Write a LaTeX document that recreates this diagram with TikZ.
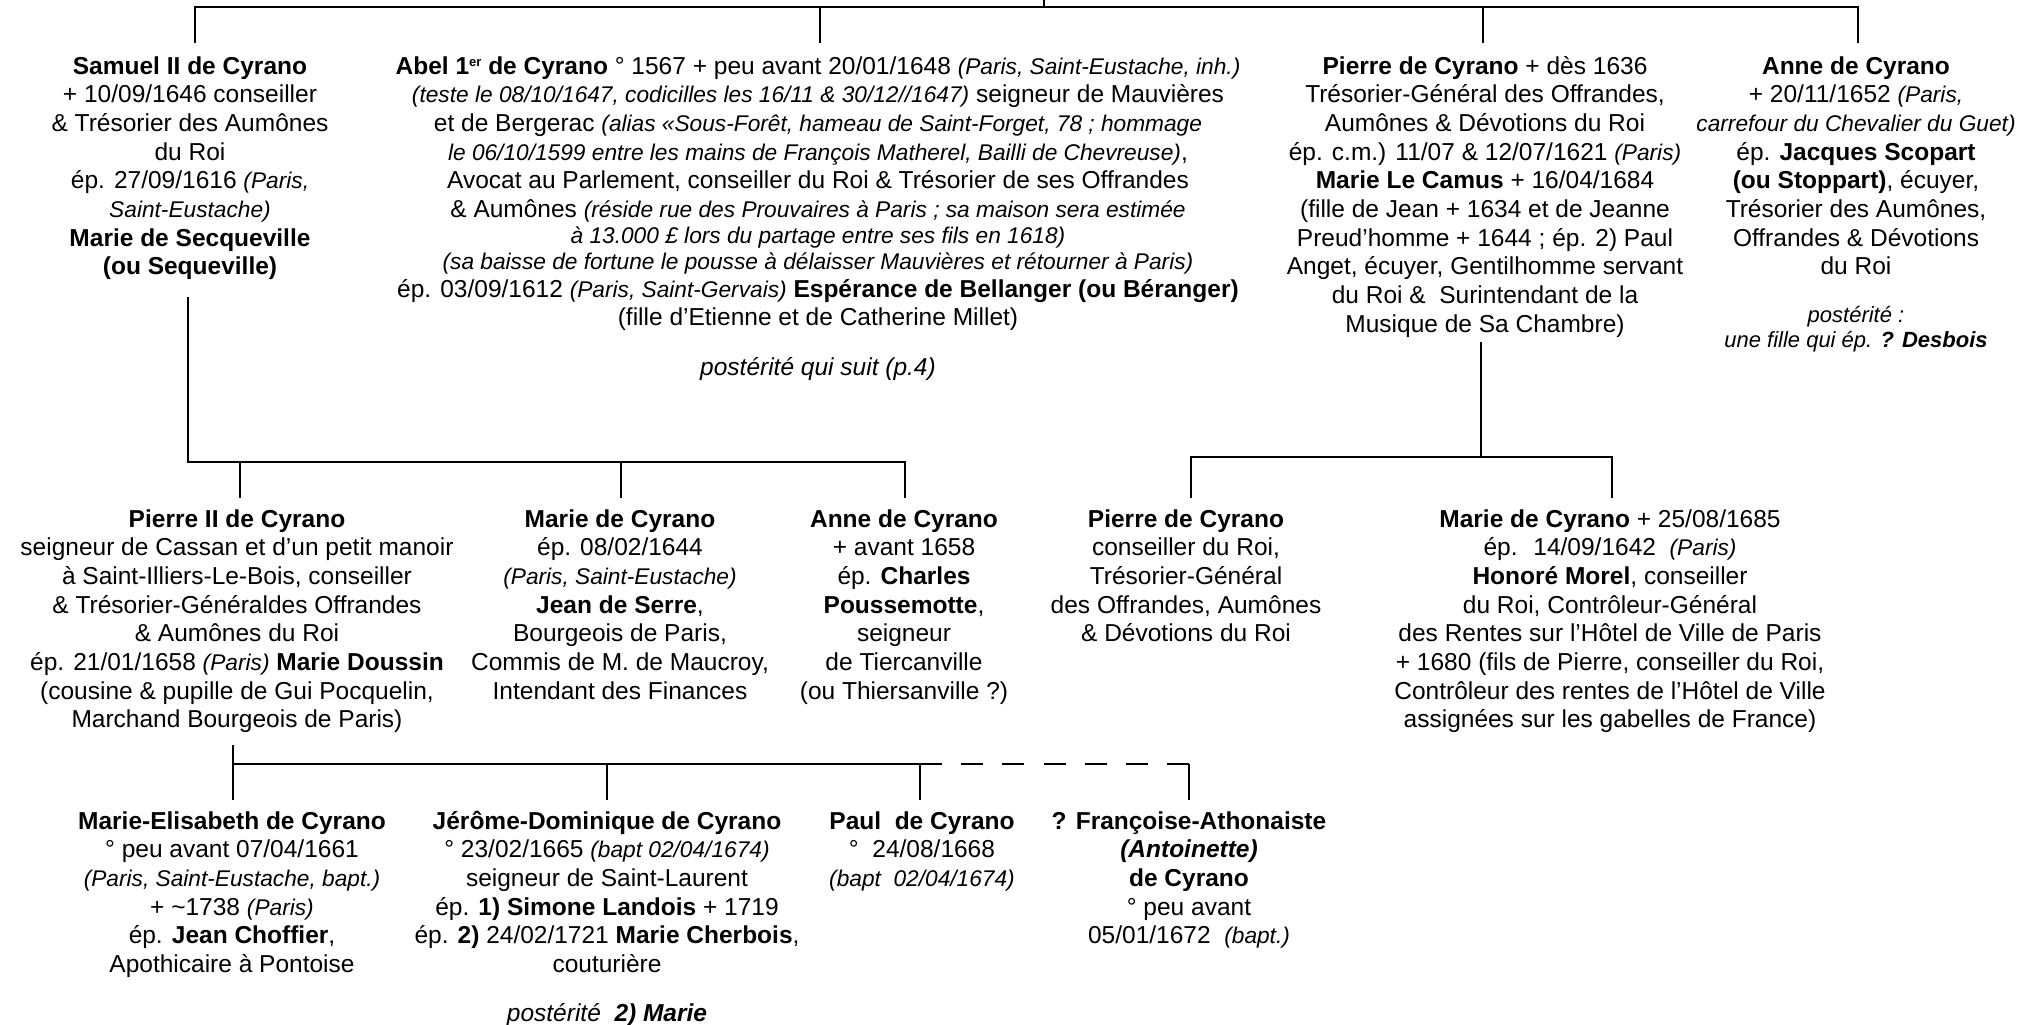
\documentclass[tikz,border=0pt]{standalone}
\usepackage{fontspec}
\setmainfont{Liberation Sans}
\newcommand\noteit[1]{{\fontsize{22.7}{28.7}\selectfont\itshape #1}}
\newcommand\tstrut{\rule{0pt}{22pt}}
\begin{document}
\begin{tikzpicture}[x=1pt,y=-1pt,
  person/.style={anchor=north,align=center,inner sep=0pt,outer sep=0pt,font=\fontsize{24.5}{28.7}\selectfont},
  single/.style={anchor=base,inner sep=0pt,outer sep=0pt,font=\fontsize{24.5}{28.7}\selectfont},
  link/.style={line width=2.5pt},
  dlink/.style={line width=2.5pt,dash pattern=on 22pt off 19.2pt}]
\useasboundingbox (0,0) rectangle (2021,1025);
\fill[white] (0,0) rectangle (2021,1025);

% ---------- Row 1 ----------
\node[person] (samuel) at (190,52) {\tstrut\textbf{Samuel II de Cyrano}\\
+ 10/09/1646 conseiller\\
\& Trésorier des Aumônes\\
du Roi\\
ép. 27/09/1616 \noteit{(Paris,}\\
\noteit{Saint-Eustache)}\\
\textbf{Marie de Secqueville}\\
\textbf{(ou Sequeville)}};

\node[person] (abel) at (818,52) {\tstrut\textbf{Abel 1\raisebox{8pt}{\fontsize{13}{13}\selectfont er} de Cyrano} ° 1567 + peu avant 20/01/1648 \noteit{(Paris, Saint-Eustache, inh.)}\\
\noteit{(teste le 08/10/1647, codicilles les 16/11 \& 30/12//1647)} seigneur de Mauvières\\
et de Bergerac \noteit{(alias «Sous-Forêt, hameau de Saint-Forget, 78 ; hommage}\\
\noteit{le 06/10/1599 entre les mains de François Matherel, Bailli de Chevreuse)},\\
Avocat au Parlement, conseiller du Roi \& Trésorier de ses Offrandes\\
\& Aumônes \noteit{(réside rue des Prouvaires à Paris ; sa maison sera estimée}\\[-2.5pt]
\noteit{à 13.000 £ lors du partage entre ses fils en 1618)}\\[-2.5pt]
\noteit{(sa baisse de fortune le pousse à délaisser Mauvières et rétourner à Paris)}\\[-1.5pt]
ép. 03/09/1612 \noteit{(Paris, Saint-Gervais)} \textbf{Espérance de Bellanger (ou Béranger)}\\
(fille d’Etienne et de Catherine Millet)};

\node[single] (abelpost) at (818,375) {\itshape postérité qui suit (p.4)};

\node[person] (pierre) at (1485,52) {\tstrut\textbf{Pierre de Cyrano} + dès 1636\\
Trésorier-Général des Offrandes,\\
Aumônes \& Dévotions du Roi\\
ép. c.m.) 11/07 \& 12/07/1621 \noteit{(Paris)}\\
\textbf{Marie Le Camus} + 16/04/1684\\
(fille de Jean + 1634 et de Jeanne\\
Preud’homme + 1644 ; ép. 2) Paul\\
Anget, écuyer, Gentilhomme servant\\
du Roi \& \ Surintendant de la\\
Musique de Sa Chambre)};

\node[person] (anne) at (1856,52) {\tstrut\textbf{Anne de Cyrano}\\
+ 20/11/1652 \noteit{(Paris,}\\
\noteit{carrefour du Chevalier du Guet)}\\
ép. \textbf{Jacques Scopart}\\
\textbf{(ou Stoppart)}, écuyer,\\
Trésorier des Aumônes,\\
Offrandes \& Dévotions\\
du Roi};

\node[person,font=\fontsize{22}{25}\selectfont\itshape] (annepost) at (1856,302) {\rule{0pt}{20pt}postérité :\\
une fille qui ép. \textbf{? Desbois}};

% ---------- Row 2 ----------
\node[person] (pierre2) at (237,505) {\tstrut\textbf{Pierre II de Cyrano}\\
seigneur de Cassan et d’un petit manoir\\
à Saint-Illiers-Le-Bois, conseiller\\
\& Trésorier-Généraldes Offrandes\\
\& Aumônes du Roi\\
ép. 21/01/1658 \noteit{(Paris)} \textbf{Marie Doussin}\\
(cousine \& pupille de Gui Pocquelin,\\
Marchand Bourgeois de Paris)};

\node[person] (marie2) at (620,505) {\tstrut\textbf{Marie de Cyrano}\\
ép. 08/02/1644\\
\noteit{(Paris, Saint-Eustache)}\\
\textbf{Jean de Serre},\\
Bourgeois de Paris,\\
Commis de M. de Maucroy,\\
Intendant des Finances};

\node[person] (anne2) at (904,505) {\tstrut\textbf{Anne de Cyrano}\\
+ avant 1658\\
ép. \textbf{Charles}\\
\textbf{Poussemotte},\\
seigneur\\
de Tiercanville\\
(ou Thiersanville ?)};

\node[person] (pierre3) at (1186,505) {\tstrut\textbf{Pierre de Cyrano}\\
conseiller du Roi,\\
Trésorier-Général\\
des Offrandes, Aumônes\\
\& Dévotions du Roi};

\node[person] (marie3) at (1610,505) {\tstrut\textbf{Marie de Cyrano} + 25/08/1685\\
ép. \ 14/09/1642 \ \noteit{(Paris)}\\
\textbf{Honoré Morel}, conseiller\\
du Roi, Contrôleur-Général\\
des Rentes sur l’Hôtel de Ville de Paris\\
+ 1680 (fils de Pierre, conseiller du Roi,\\
Contrôleur des rentes de l’Hôtel de Ville\\
assignées sur les gabelles de France)};

% ---------- Row 3 ----------
\node[person] (melis) at (232,807) {\tstrut\textbf{Marie-Elisabeth de Cyrano}\\
° peu avant 07/04/1661\\
\noteit{(Paris, Saint-Eustache, bapt.)}\\
+ \textasciitilde1738 \noteit{(Paris)}\\
ép. \textbf{Jean Choffier},\\
Apothicaire à Pontoise};

\node[person] (jerome) at (607,807) {\tstrut\textbf{Jérôme-Dominique de Cyrano}\\
° 23/02/1665 \noteit{(bapt 02/04/1674)}\\
seigneur de Saint-Laurent\\
ép. \textbf{1) Simone Landois} + 1719\\
ép. \textbf{2)} 24/02/1721 \textbf{Marie Cherbois},\\
couturière};

\node[single] (jeromepost) at (607,1021) {\itshape postérité \ \textbf{2) Marie}};

\node[person] (paul) at (922,807) {\tstrut\textbf{Paul \ de Cyrano}\\
° \ 24/08/1668\\
\noteit{(bapt \ 02/04/1674)}};

\node[person] (francoise) at (1189,807) {\tstrut\textbf{? Françoise-Athonaiste}\\
\textbf{\textit{(Antoinette)}}\\
\textbf{de Cyrano}\\
° peu avant\\
05/01/1672 \ \noteit{(bapt.)}};

% ---------- Connector points ----------
\coordinate (root) at (1044,-3);
\coordinate (rootJ) at (1044,7);
\coordinate (bSam) at (195,7);   \coordinate (tSam) at (195,43);
\coordinate (bAbel) at (820,7);  \coordinate (tAbel) at (820,43);
\coordinate (bPie) at (1483,7);  \coordinate (tPie) at (1483,43);
\coordinate (bAnne) at (1858,7); \coordinate (tAnne) at (1858,43);

\coordinate (samD) at (188,297); \coordinate (samJ) at (188,462);
\coordinate (jP2) at (240,462);  \coordinate (tP2) at (240,498);
\coordinate (jM2) at (621,462);  \coordinate (tM2) at (621,498);
\coordinate (jA2) at (905,462);  \coordinate (tA2) at (905,498);

\coordinate (pieD) at (1481,342); \coordinate (pieJ) at (1481,457);
\coordinate (jP3) at (1191,457);  \coordinate (tP3) at (1191,498);
\coordinate (jM3) at (1612,457);  \coordinate (tM3) at (1612,498);

\coordinate (p2D) at (233,745);  \coordinate (jME) at (233,764); \coordinate (tME) at (233,800);
\coordinate (jJD) at (607,764);  \coordinate (tJD) at (607,800);
\coordinate (jPa) at (920,764);  \coordinate (tPa) at (920,800);
\coordinate (jFr) at (1189,764); \coordinate (tFr) at (1189,800);

% ---------- Connectors ----------
\draw[link] (tSam) -- (bSam) -- (bAnne) -- (tAnne);
\draw[link] (root) -- (rootJ);
\draw[link] (bAbel) -- (tAbel);
\draw[link] (bPie) -- (tPie);

\draw[link] (samD) -- (samJ) -- (jA2) -- (tA2);
\draw[link] (jP2) -- (tP2);
\draw[link] (jM2) -- (tM2);

\draw[link] (pieD) -- (pieJ);
\draw[link] (tP3) -- (jP3) -- (jM3) -- (tM3);

\draw[link] (p2D) -- (tME);
\draw[link] (jME) -- (jPa) -- (tPa);
\draw[link] (jJD) -- (tJD);
\draw[dlink] (jPa) -- (jFr);
\draw[link] (jFr) -- (tFr);
\end{tikzpicture}
\end{document}
